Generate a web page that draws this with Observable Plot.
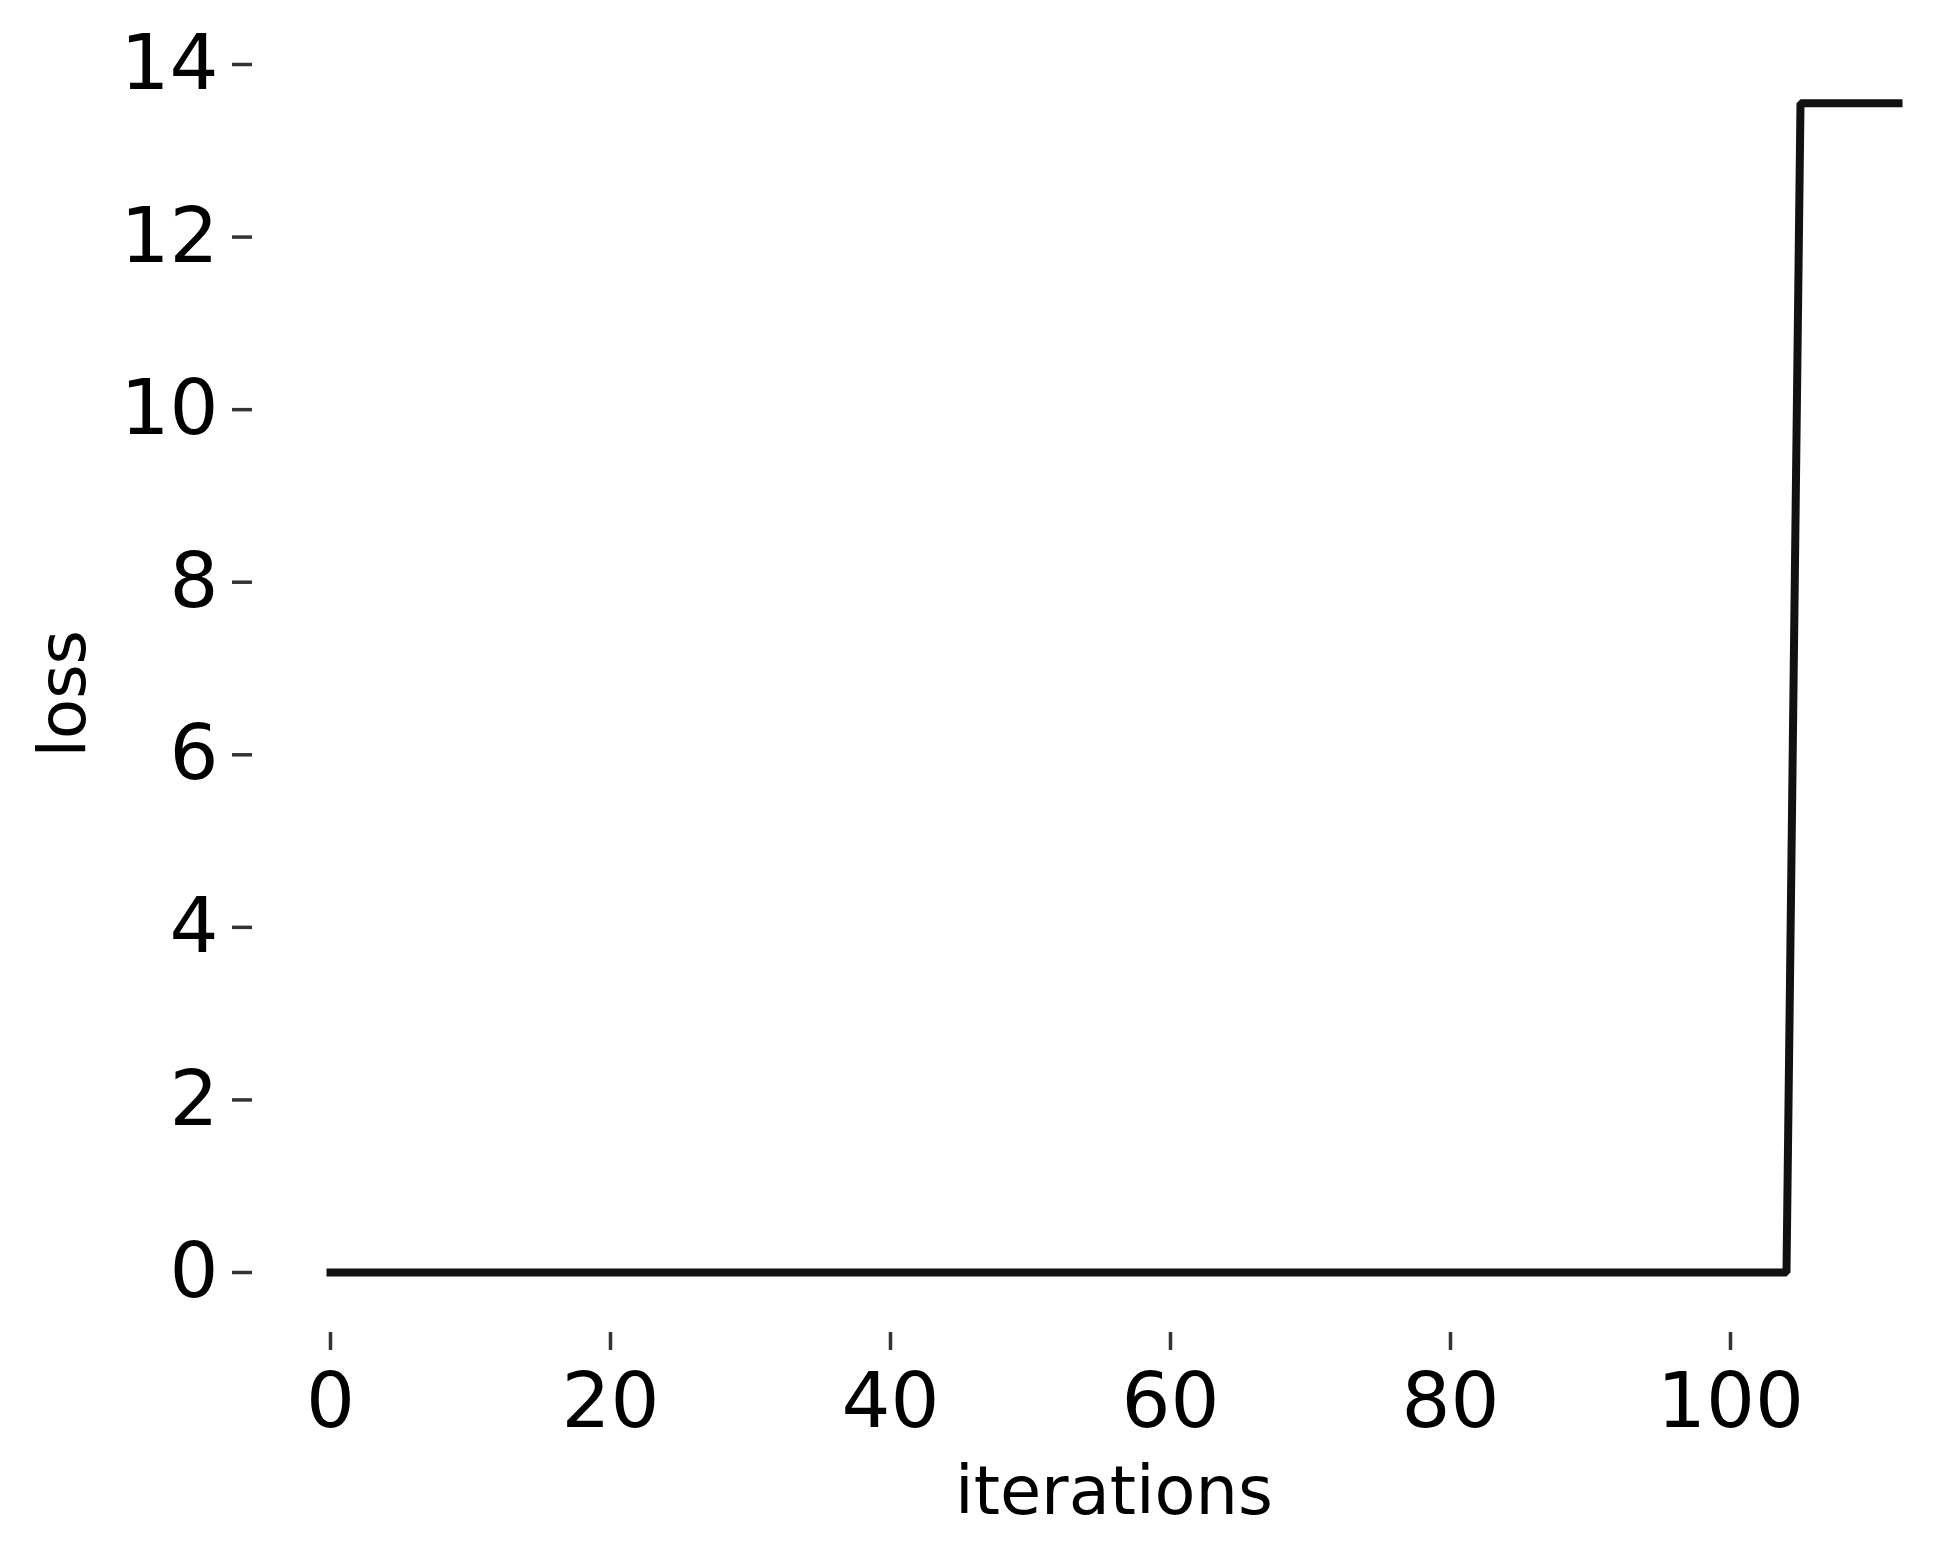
<!DOCTYPE html>
<html>
<head>
<meta charset="utf-8">
<script src="https://cdn.jsdelivr.net/npm/d3@7"></script>
<script src="https://cdn.jsdelivr.net/npm/@observablehq/plot@0.6"></script>
<style>
  html, body { margin: 0; padding: 0; background: #fff; }
  #chart svg { display: block; }
</style>
</head>
<body>
<div id="chart"></div>
<script>
// Data
const iterations = [
  0,1,2,3,4,5,6,7,8,9,10,11,12,13,14,15,16,17,18,19,
  20,21,22,23,24,25,26,27,28,29,30,31,32,33,34,35,36,37,38,39,
  40,41,42,43,44,45,46,47,48,49,50,51,52,53,54,55,56,57,58,59,
  60,61,62,63,64,65,66,67,68,69,70,71,72,73,74,75,76,77,78,79,
  80,81,82,83,84,85,86,87,88,89,90,91,92,93,94,95,96,97,98,99,
  100,101,102,103,104,105,106,107,108,109,110,111,112
];
const loss = [
  0,0,0,0,0,0,0,0,0,0,0,0,0,0,0,0,0,0,0,0,
  0,0,0,0,0,0,0,0,0,0,0,0,0,0,0,0,0,0,0,0,
  0,0,0,0,0,0,0,0,0,0,0,0,0,0,0,0,0,0,0,0,
  0,0,0,0,0,0,0,0,0,0,0,0,0,0,0,0,0,0,0,0,
  0,0,0,0,0,0,0,0,0,0,0,0,0,0,0,0,0,0,0,0,
  0,0,0,0,0,13.55,13.55,13.55,13.55,13.55,13.55,13.55,13.55
];
const xTicks = [0, 20, 40, 60, 80, 100];
const yTicks = [0, 2, 4, 6, 8, 10, 12, 14];
const xLabel = "iterations";
const yLabel = "loss";

const data = iterations.map((it, i) => ({iteration: it, loss: loss[i]}));

const chart = Plot.plot({
  width: 1949,
  height: 1555,
  marginLeft: 252,
  marginRight: 0,
  marginTop: 56,
  marginBottom: 223,
  style: {fontFamily: "'DejaVu Sans', sans-serif", fontSize: "76px", color: "#000", background: "#fff"},
  x: {domain: [0, 100], range: [330, 1730]},
  y: {domain: [0, 14], range: [1272, 64]},
  marks: [
    Plot.line(data, {
      x: "iteration", y: "loss",
      stroke: "#111", strokeWidth: 8,
      strokeLinecap: "square", strokeLinejoin: "miter"
    }),
    Plot.axisX({
      ticks: xTicks, tickFormat: d => String(d),
      tickSize: 18, tickPadding: 22,
      stroke: "#333", strokeWidth: 3.5, fill: "#000",
      fontSize: 77, label: null
    }),
    Plot.axisY({
      ticks: yTicks, tickFormat: d => String(d),
      tickSize: 20, tickPadding: 14,
      stroke: "#333", strokeWidth: 3.5, fill: "#000",
      fontSize: 77, label: null
    }),
    Plot.text([xLabel], {
      frameAnchor: "bottom", lineAnchor: "bottom",
      dx: 13, dy: 181, fontSize: 67, fill: "#000"
    }),
    Plot.text([yLabel], {
      frameAnchor: "left", lineAnchor: "bottom", rotate: -90,
      dx: -168, dy: 63, fontSize: 66, fill: "#000"
    })
  ]
});
document.getElementById("chart").appendChild(chart);
</script>
</body>
</html>
